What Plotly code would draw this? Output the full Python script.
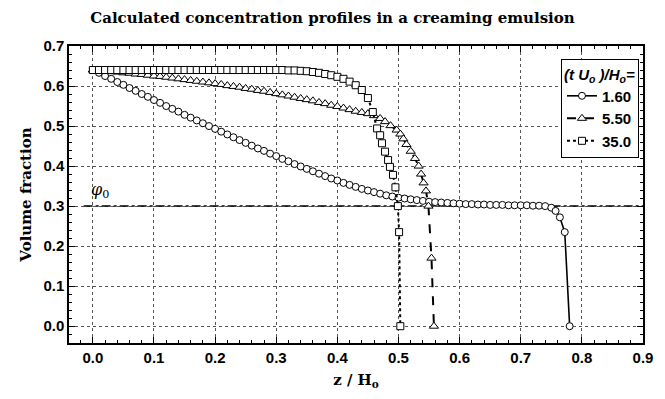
import plotly.graph_objects as go

# Dimensionless time labels for each profile
series_labels = ["1.60", "5.50", "35.0"]

# Profile at t U0/H0 = 1.60
z1 = [0.00, 0.01, 0.02, 0.03, 0.04, 0.05, 0.06, 0.07, 0.08, 0.09,
      0.10, 0.11, 0.12, 0.13, 0.14, 0.15, 0.16, 0.17, 0.18, 0.19,
      0.20, 0.21, 0.22, 0.23, 0.24, 0.25, 0.26, 0.27, 0.28, 0.29,
      0.30, 0.31, 0.32, 0.33, 0.34, 0.35, 0.36, 0.37, 0.38, 0.39,
      0.40, 0.41, 0.42, 0.43, 0.44, 0.45, 0.46, 0.47, 0.48, 0.49,
      0.50, 0.51, 0.52, 0.53, 0.54, 0.55, 0.56, 0.57, 0.58, 0.59,
      0.60, 0.61, 0.62, 0.63, 0.64, 0.65, 0.66, 0.67, 0.68, 0.69,
      0.70, 0.71, 0.72, 0.73, 0.74, 0.750, 0.757, 0.764, 0.772, 0.780]
phi1 = [0.640, 0.633, 0.625, 0.618, 0.610, 0.603, 0.595, 0.588, 0.580, 0.573,
        0.565, 0.558, 0.550, 0.543, 0.536, 0.528, 0.521, 0.514, 0.507, 0.500,
        0.493, 0.486, 0.479, 0.472, 0.465, 0.458, 0.451, 0.444, 0.438, 0.431,
        0.425, 0.418, 0.412, 0.405, 0.399, 0.393, 0.387, 0.381, 0.375, 0.369,
        0.364, 0.358, 0.353, 0.348, 0.343, 0.339, 0.335, 0.331, 0.327, 0.324,
        0.321, 0.319, 0.317, 0.315, 0.313, 0.311, 0.310, 0.309, 0.308, 0.307,
        0.306, 0.305, 0.305, 0.304, 0.304, 0.303, 0.303, 0.303, 0.302, 0.302,
        0.302, 0.302, 0.301, 0.301, 0.300, 0.296, 0.288, 0.272, 0.235, 0.000]

# Profile at t U0/H0 = 5.50
z2 = [0.00, 0.01, 0.02, 0.03, 0.04, 0.05, 0.06, 0.07, 0.08, 0.09,
      0.10, 0.11, 0.12, 0.13, 0.14, 0.15, 0.16, 0.17, 0.18, 0.19,
      0.20, 0.21, 0.22, 0.23, 0.24, 0.25, 0.26, 0.27, 0.28, 0.29,
      0.30, 0.31, 0.32, 0.33, 0.34, 0.35, 0.36, 0.37, 0.38, 0.39,
      0.40, 0.41, 0.42, 0.43, 0.44, 0.45, 0.46, 0.47, 0.478, 0.487,
      0.497, 0.503, 0.508, 0.513, 0.520, 0.527, 0.533, 0.537, 0.541, 0.545,
      0.549, 0.554, 0.558]
phi2 = [0.640, 0.639, 0.638, 0.636, 0.635, 0.633, 0.632, 0.630, 0.629, 0.627,
        0.625, 0.624, 0.622, 0.620, 0.618, 0.616, 0.614, 0.612, 0.610, 0.608,
        0.606, 0.604, 0.601, 0.599, 0.597, 0.594, 0.592, 0.589, 0.587, 0.584,
        0.581, 0.578, 0.575, 0.572, 0.569, 0.566, 0.563, 0.559, 0.556, 0.552,
        0.549, 0.545, 0.541, 0.537, 0.534, 0.531, 0.526, 0.519, 0.511, 0.501,
        0.490, 0.480, 0.468, 0.454, 0.437, 0.419, 0.400, 0.380, 0.358, 0.338,
        0.300, 0.170, 0.000]

# Profile at t U0/H0 = 35.0
z3 = [0.00, 0.01, 0.02, 0.03, 0.04, 0.05, 0.06, 0.07, 0.08, 0.09,
      0.10, 0.11, 0.12, 0.13, 0.14, 0.15, 0.16, 0.17, 0.18, 0.19,
      0.20, 0.21, 0.22, 0.23, 0.24, 0.25, 0.26, 0.27, 0.28, 0.29,
      0.30, 0.31, 0.32, 0.33, 0.34, 0.35, 0.36, 0.37, 0.38, 0.39,
      0.40, 0.41, 0.42, 0.43, 0.44, 0.45, 0.458, 0.465, 0.470, 0.473,
      0.478, 0.483, 0.486, 0.491, 0.495, 0.499, 0.501, 0.503]
phi3 = [0.640, 0.640, 0.640, 0.640, 0.640, 0.640, 0.640, 0.640, 0.640, 0.640,
        0.640, 0.640, 0.640, 0.640, 0.640, 0.640, 0.640, 0.640, 0.640, 0.640,
        0.640, 0.640, 0.640, 0.640, 0.640, 0.640, 0.640, 0.640, 0.640, 0.640,
        0.640, 0.640, 0.639, 0.639, 0.638, 0.637, 0.635, 0.633, 0.630, 0.627,
        0.623, 0.618, 0.611, 0.602, 0.590, 0.570, 0.535, 0.494, 0.477, 0.457,
        0.436, 0.415, 0.398, 0.378, 0.347, 0.300, 0.235, 0.000]

# Initial volume fraction and the span of its reference line
phi0 = 0.30
phi0_span = [-0.015, 0.9]

serif = "DejaVu Serif"
sans = "Liberation Sans"

fig = go.Figure()

fig.add_trace(go.Scatter(
    x=phi0_span, y=[phi0, phi0], mode="lines",
    line=dict(color="black", width=1.5, dash="dashdot"),
    showlegend=False, hoverinfo="skip"))

styles = [
    (z1, phi1, "circle", "solid", 1.6, 7),
    (z2, phi2, "triangle-up", "dash", 2.0, 8),
    (z3, phi3, "square", "dot", 2.0, 7),
]
for (zs, ps, sym, dash, lw, ms), name in zip(styles, series_labels):
    fig.add_trace(go.Scatter(
        x=zs, y=ps, mode="lines+markers", name=name,
        line=dict(color="black", width=lw, dash=dash),
        marker=dict(symbol=sym, size=ms, color="white",
                    line=dict(color="black", width=1))))

axis_common = dict(
    showline=True, linecolor="black", linewidth=1.5, mirror="ticks",
    ticks="inside", ticklen=6, tickwidth=1, tickcolor="black",
    showgrid=True, gridcolor="#555555", gridwidth=1, griddash="dot",
    zeroline=False, dtick=0.1, tick0=0, tickformat=".1f",
    tickfont=dict(family=sans, size=15, color="black", weight="bold"),
    minor=dict(dtick=0.02, ticks="inside", ticklen=3, tickcolor="black",
               showgrid=False),
)

fig.update_xaxes(
    range=[-0.039, 0.9],
    title=dict(text="<b>z / H<sub>o</sub></b>", standoff=10,
               font=dict(family=serif, size=15, color="black")),
    **axis_common)
fig.update_yaxes(
    range=[-0.042, 0.7],
    title=dict(text="<b>Volume fraction</b>", standoff=8,
               font=dict(family=serif, size=15, color="black")),
    **axis_common)

fig.add_annotation(
    x=0.012, y=0.34, xref="x", yref="y", showarrow=False,
    text="<i>φ</i><sub>0</sub>",
    font=dict(family=serif, size=16, color="black"))

fig.update_layout(
    width=665, height=399,
    margin=dict(l=69, r=13, t=46, b=56),
    paper_bgcolor="white", plot_bgcolor="white",
    title=dict(text="<b>Calculated concentration profiles in a creaming emulsion</b>",
               x=0.5, xanchor="center", y=0.955, yanchor="middle",
               font=dict(family=serif, size=15, color="black")),
    legend=dict(
        x=0.993, y=0.956, xanchor="right", yanchor="top",
        bgcolor="white", bordercolor="black", borderwidth=1,
        font=dict(family=sans, size=15, color="black", weight="bold"),
        title=dict(text="<b><i>(t U<sub>o</sub> )/H<sub>o</sub>=</i></b>",
                   font=dict(family=sans, size=15, color="black")),
        tracegroupgap=0, itemwidth=30),
)

fig.write_html("out.html")
